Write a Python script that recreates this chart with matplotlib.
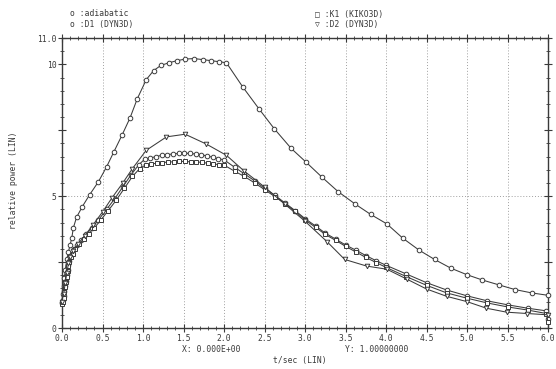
import numpy as np
import matplotlib
matplotlib.use('Agg')
import matplotlib.pyplot as plt
from matplotlib.ticker import MultipleLocator

# adiabatic
t_ad = [0.0, 0.01, 0.02, 0.03, 0.04, 0.06, 0.08, 0.10, 0.12, 0.14, 0.18, 0.25, 0.34, 0.45,
        0.55, 0.64, 0.74, 0.84, 0.93, 1.04, 1.13, 1.22, 1.32, 1.42, 1.52, 1.63, 1.74, 1.84,
        1.94, 2.03, 2.23, 2.43, 2.62, 2.83, 3.01, 3.21, 3.41, 3.62, 3.81, 4.01, 4.21, 4.41,
        4.60, 4.80, 5.00, 5.19, 5.40, 5.59, 5.80, 6.00]
p_ad = [1.0, 1.3, 1.6, 1.9, 2.2, 2.6, 2.9, 3.15, 3.4, 3.8, 4.2, 4.6, 5.05, 5.55,
        6.11, 6.68, 7.31, 7.97, 8.70, 9.42, 9.76, 9.96, 10.06, 10.14, 10.2, 10.22, 10.18, 10.14,
        10.1, 10.06, 9.15, 8.32, 7.56, 6.81, 6.3, 5.72, 5.17, 4.70, 4.31, 3.95, 3.4, 2.95,
        2.6, 2.27, 2.02, 1.82, 1.63, 1.46, 1.33, 1.24]

# D1 (DYN3D)
t_d1 = [0.0, 0.01, 0.02, 0.03, 0.04, 0.05, 0.06, 0.07, 0.08, 0.09, 0.10, 0.12, 0.15, 0.19,
        0.24, 0.30, 0.37, 0.45, 0.55, 0.65, 0.75, 0.85, 0.95, 1.02, 1.09, 1.16, 1.23, 1.30,
        1.37, 1.44, 1.51, 1.58, 1.65, 1.72, 1.79, 1.86, 1.93, 2.00, 2.13, 2.25, 2.38, 2.50,
        2.63, 2.75, 2.88, 3.00, 3.13, 3.25, 3.38, 3.50, 3.63, 3.75, 3.88, 4.00, 4.25, 4.50,
        4.75, 5.00, 5.25, 5.50, 5.75, 5.98, 6.00]
p_d1 = [0.95, 1.05, 1.2, 1.4, 1.6, 1.8, 2.0, 2.2, 2.4, 2.55, 2.7, 2.82, 2.98, 3.15,
        3.35, 3.55, 3.8, 4.1, 4.5, 4.9, 5.35, 5.8, 6.2, 6.4, 6.45, 6.5, 6.55, 6.58,
        6.6, 6.62, 6.63, 6.62, 6.6, 6.58, 6.52, 6.48, 6.42, 6.38, 6.1, 5.85, 5.58, 5.3,
        5.03, 4.75, 4.45, 4.15, 3.87, 3.6, 3.37, 3.15, 2.95, 2.75, 2.55, 2.38, 2.05, 1.72,
        1.44, 1.22, 1.03, 0.88, 0.75, 0.65, 0.35]

# K1 (KIKO3D)
t_k1 = [0.0, 0.01, 0.02, 0.03, 0.04, 0.05, 0.06, 0.07, 0.08, 0.09, 0.11, 0.13, 0.16, 0.21,
        0.27, 0.33, 0.40, 0.48, 0.57, 0.67, 0.77, 0.87, 0.96, 1.04, 1.10, 1.17, 1.24, 1.31,
        1.38, 1.45, 1.52, 1.59, 1.66, 1.73, 1.80, 1.87, 1.94, 2.00, 2.13, 2.25, 2.38, 2.50,
        2.63, 2.75, 2.88, 3.00, 3.13, 3.25, 3.38, 3.50, 3.63, 3.75, 3.88, 4.00, 4.25, 4.50,
        4.75, 5.00, 5.25, 5.50, 5.75, 5.98, 6.00]
p_k1 = [0.9, 1.0, 1.15, 1.35, 1.55, 1.75, 1.95, 2.15, 2.35, 2.5, 2.7, 2.82, 2.98, 3.18,
        3.38, 3.58, 3.8, 4.1, 4.45, 4.85, 5.3, 5.75, 6.05, 6.2, 6.22, 6.25, 6.27, 6.3,
        6.3, 6.32, 6.32, 6.3, 6.3, 6.28, 6.25, 6.22, 6.2, 6.18, 5.95, 5.75, 5.5, 5.25,
        4.98, 4.72, 4.42, 4.1, 3.82, 3.55, 3.32, 3.1, 2.88, 2.68, 2.48, 2.3, 1.95, 1.62,
        1.33, 1.13, 0.95, 0.8, 0.68, 0.55, 0.22]

# D2 (DYN3D)
t_d2 = [0.0, 0.02, 0.04, 0.06, 0.08, 0.10, 0.14, 0.20, 0.28, 0.38, 0.50, 0.62, 0.75, 0.87,
        1.04, 1.29, 1.52, 1.78, 2.03, 2.25, 2.50, 2.75, 3.00, 3.27, 3.49, 3.76, 4.01, 4.26,
        4.50, 4.75, 5.00, 5.24, 5.49, 5.74, 6.00]
p_d2 = [1.0, 1.3, 1.7, 2.1, 2.45, 2.7, 2.92, 3.2, 3.5, 3.9, 4.4, 4.95, 5.5, 6.05,
        6.74, 7.25, 7.35, 6.98, 6.55, 5.95, 5.35, 4.7, 4.05, 3.28, 2.6, 2.35, 2.23, 1.85,
        1.48, 1.2, 1.0, 0.75, 0.6, 0.55, 0.5]

series = [
    (t_ad, p_ad, 'o'),
    (t_d1, p_d1, 'o'),
    (t_k1, p_k1, 's'),
    (t_d2, p_d2, 'v'),
]

x_ticks = [0.0, 0.5, 1.0, 1.5, 2.0, 2.5, 3.0, 3.5, 4.0, 4.5, 5.0, 5.5, 6.0]
y_ticks = [0, 2.5, 5, 7.5, 10, 11]
y_labels = ['0', '', '5', '', '10', '11.0']

plt.rcParams['font.family'] = ['DejaVu Sans Mono']
fs = 5.8
ink = '#3a3a3a'

fig = plt.figure(figsize=(5.56, 3.69), dpi=100)
ax = fig.add_axes([62 / 556, 1 - 328 / 369, 486 / 556, 290 / 369])

# grid: dotted verticals every 0.5, one horizontal at 5
for xv in x_ticks[1:-1]:
    ax.axvline(xv, color='#a0a0a0', lw=0.7, ls=(0, (1, 2)), zorder=0)
ax.axhline(5, color='#a0a0a0', lw=0.7, ls=(0, (1, 2)), zorder=0)

for t, p, m in series:
    ax.plot(t, p, color=ink, lw=0.75, marker=m, ms=3.3, mfc='white',
            mec=ink, mew=0.7, clip_on=False, zorder=3)

ax.set_xlim(0, 6)
ax.set_ylim(0, 11)
ax.set_xticks(x_ticks)
ax.set_xticklabels([f'{v:.1f}' for v in x_ticks])
ax.set_yticks(y_ticks)
ax.set_yticklabels(y_labels)
ax.xaxis.set_minor_locator(MultipleLocator(0.1))
ax.yaxis.set_minor_locator(MultipleLocator(0.5))
ax.tick_params(which='major', direction='inout', length=6, width=0.8, colors=ink,
               labelsize=fs, pad=1, top=True, right=True)
ax.tick_params(which='minor', direction='inout', length=3, width=0.6, colors=ink,
               top=True, right=True)
for s in ax.spines.values():
    s.set_color(ink)
    s.set_linewidth(1.0)

# legend text
fig.text(70 / 556, 1 - 14 / 369, 'o :adiabatic', fontsize=fs, color=ink, va='center')
fig.text(70 / 556, 1 - 25 / 369, 'o :D1 (DYN3D)', fontsize=fs, color=ink, va='center')
fig.text(315 / 556, 1 - 14 / 369, '\u25a1 :K1 (KIKO3D)', fontsize=fs, color=ink, va='center')
fig.text(315 / 556, 1 - 25 / 369, '\u25bd :D2 (DYN3D)', fontsize=fs, color=ink, va='center')

fig.text(182 / 556, 1 - 350 / 369, 'X: 0.000E+00', fontsize=fs, color=ink, va='center')
fig.text(345 / 556, 1 - 350 / 369, 'Y: 1.00000000', fontsize=fs, color=ink, va='center')
fig.text(300 / 556, 1 - 361 / 369, 't/sec (LIN)', fontsize=fs, color=ink,
         va='center', ha='center')
fig.text(14 / 556, 1 - 180 / 369, 'relative power (LIN)', fontsize=fs, color=ink,
         va='center', ha='center', rotation=90)

fig.savefig('out.png', dpi=100)
